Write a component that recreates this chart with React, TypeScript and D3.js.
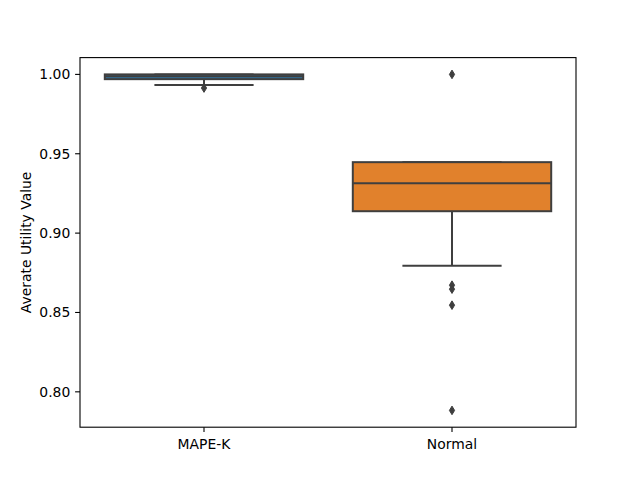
import React from 'react';
import * as d3 from 'd3';

// box statistics
const categories = ['MAPE-K', 'Normal'];
const q1 = [0.997, 0.9138];
const medians = [0.9988, 0.9314];
const q3 = [1.0, 0.9447];
const whiskerLow = [0.9933, 0.8795];
const whiskerHigh = [1.0, 0.9447];
const outliers = [
  [0.9914],
  [1.0, 0.8672, 0.8647, 0.8546, 0.7883],
];
const boxColors = ['#3274a1', '#e1812c'];
const yTicks = [0.8, 0.85, 0.9, 0.95, 1.0];

const W = 640;
const H = 480;
const margin = { top: 57.6, right: 64, bottom: 52.8, left: 80 };
const gray = '#3f3f3f';
const font = 'DejaVu Sans, sans-serif';

const App = () => {
  const allVals = [...whiskerLow, ...whiskerHigh, ...outliers.flat()];
  const lo = d3.min(allVals) as number;
  const hi = d3.max(allVals) as number;
  const pad = (hi - lo) * 0.05;

  const x = d3.scaleBand<string>()
    .domain(categories)
    .range([margin.left, W - margin.right])
    .padding(0);

  const y = d3.scaleLinear()
    .domain([lo - pad, hi + pad])
    .range([H - margin.bottom, margin.top]);

  const boxW = x.bandwidth() * 0.8;
  const capW = boxW * 0.5;
  const left = margin.left;
  const right = W - margin.right;
  const top = margin.top;
  const bottom = H - margin.bottom;

  const diamond = (cx: number, cy: number) =>
    `M${cx},${cy - 4.3}L${cx + 2.6},${cy}L${cx},${cy + 4.3}L${cx - 2.6},${cy}Z`;

  return (
    <svg width={W} height={H} style={{ position: 'absolute', left: 0, top: 0, background: '#fff' }}>
      <rect x={0} y={0} width={W} height={H} fill="#fff" />
      {categories.map((c, i) => {
        const cx = (x(c) as number) + x.bandwidth() / 2;
        return (
          <g key={c}>
            {/* whiskers */}
            <line x1={cx} x2={cx} y1={y(q1[i])} y2={y(whiskerLow[i])} stroke={gray} strokeWidth={2} />
            <line x1={cx} x2={cx} y1={y(q3[i])} y2={y(whiskerHigh[i])} stroke={gray} strokeWidth={2} />
            <line x1={cx - capW / 2} x2={cx + capW / 2} y1={y(whiskerLow[i])} y2={y(whiskerLow[i])} stroke={gray} strokeWidth={2} />
            <line x1={cx - capW / 2} x2={cx + capW / 2} y1={y(whiskerHigh[i])} y2={y(whiskerHigh[i])} stroke={gray} strokeWidth={2} />
            {/* box */}
            <rect
              x={cx - boxW / 2}
              y={y(q3[i])}
              width={boxW}
              height={y(q1[i]) - y(q3[i])}
              fill={boxColors[i]}
              stroke={gray}
              strokeWidth={2}
            />
            <line x1={cx - boxW / 2} x2={cx + boxW / 2} y1={y(medians[i])} y2={y(medians[i])} stroke={gray} strokeWidth={2} />
            {outliers[i].map((v, j) => (
              <path key={j} d={diamond(cx, y(v))} fill={gray} stroke={gray} strokeWidth={1} />
            ))}
          </g>
        );
      })}

      {/* frame */}
      <rect x={left} y={top} width={right - left} height={bottom - top} fill="none" stroke="#000" strokeWidth={1.1} />

      {/* y axis */}
      {yTicks.map((t) => (
        <g key={t}>
          <line x1={left - 4.9} x2={left} y1={y(t)} y2={y(t)} stroke="#000" strokeWidth={1.1} />
          <text x={left - 9.7} y={y(t)} dy="0.35em" textAnchor="end" fontFamily={font} fontSize={13.9} fill="#000">
            {d3.format('.2f')(t)}
          </text>
        </g>
      ))}

      {/* x axis */}
      {categories.map((c) => {
        const cx = (x(c) as number) + x.bandwidth() / 2;
        return (
          <g key={c}>
            <line x1={cx} x2={cx} y1={bottom} y2={bottom + 4.9} stroke="#000" strokeWidth={1.1} />
            <text x={cx} y={bottom + 21.3} textAnchor="middle" fontFamily={font} fontSize={13.9} fill="#000">
              {c}
            </text>
          </g>
        );
      })}

      <text
        transform={`translate(31,${(top + bottom) / 2}) rotate(-90)`}
        textAnchor="middle"
        fontFamily={font}
        fontSize={13.9}
        fill="#000"
      >
        Averate Utility Value
      </text>
    </svg>
  );
};

export default App;
